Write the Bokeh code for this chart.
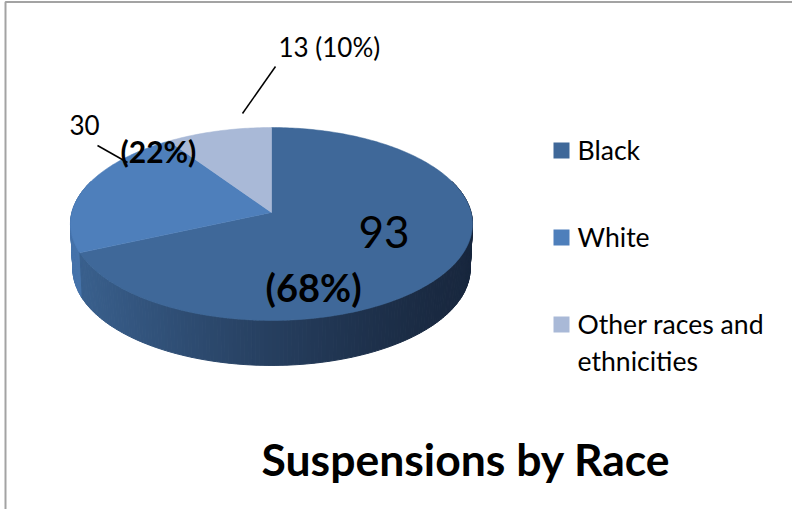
import math
from bokeh.core.properties import value
from bokeh.embed import file_html
from bokeh.models import Range1d
from bokeh.plotting import figure
from bokeh.resources import INLINE

# Chart content
categories = ["Black", "White", "Other races and ethnicities"]
counts = [93, 30, 13]
slice_colors = ["#3f6899", "#4e7fbb", "#a9b9d7"]
title = "Suspensions by Race"
FONT = value("Lato")

# Tilted-disc geometry, in page pixels
CX, CY, RX, RY, TILT, DEPTH = 271, 212, 199.6, 95.1, 0.119, 45


def rim(theta):
    """Project a clockwise-from-top angle on the disc onto the page."""
    u, v = math.sin(theta), math.cos(theta)
    s = 1 / (1 + TILT * v)
    return CX + RX * u * s, CY - RY * v * s


def mix(a, b, t):
    pa = [int(a[i:i + 2], 16) for i in (1, 3, 5)]
    pb = [int(b[i:i + 2], 16) for i in (1, 3, 5)]
    return "#" + "".join(f"{round(x + (y - x) * t):02x}" for x, y in zip(pa, pb))


p = figure(width=792, height=509, output_backend="svg", toolbar_location=None,
           x_range=Range1d(0, 792), y_range=Range1d(509, 0),
           min_border=0, outline_line_color=None, background_fill_color="white",
           border_fill_color="white")
p.axis.visible = False
p.grid.visible = False

# Chart-area frame along the top and left edges
p.line([5, 5, 792], [509, 1.5, 1.5], line_color="#a3a3a3", line_width=2)

# Slice boundaries derived from the counts
total = sum(counts)
edges = [0.0]
for c in counts:
    edges.append(edges[-1] + 2 * math.pi * c / total)

# Shaded outer wall, drawn as thin strips across the front of the disc
n = 220
start, stop = math.radians(70), math.radians(290)
for i in range(n):
    a0 = start + (stop - start) * i / n
    a1 = start + (stop - start) * (i + 1) / n
    x0, y0 = rim(a0)
    x1, y1 = rim(a1)
    t = min(1, max(0, (CX + 200 - (x0 + x1) / 2) / 400))
    if a0 < edges[1]:
        color = mix("#18273e", "#3a618f", t ** 1.3)
    else:
        color = "#4673aa"
    shrink = 0.988
    bx0, bx1 = CX + (x0 - CX) * shrink, CX + (x1 - CX) * shrink
    p.patch([x0, x1, bx1, bx0], [y0, y1, y1 + DEPTH, y0 + DEPTH],
            fill_color=color, line_color=color, line_width=1)

# Top faces of the slices
for k, color in enumerate(slice_colors):
    steps = max(8, int((edges[k + 1] - edges[k]) * 60))
    pts = [rim(edges[k] + (edges[k + 1] - edges[k]) * j / steps) for j in range(steps + 1)]
    p.patch([CX] + [q[0] for q in pts], [CY] + [q[1] for q in pts],
            fill_color=color, line_color=color, line_width=0.5)

# Leader lines
p.line([242, 275], [113, 66], line_color="black", line_width=1.5)
p.line([97, 127], [145, 162], line_color="black", line_width=1.5)


def label(x, y, text, size, bold=False, align="left"):
    p.text([x], [y], text=[text], text_font=FONT, text_font_size=f"{size}px",
           text_font_style="bold" if bold else "normal", text_color="black",
           text_align=align, text_baseline="middle")


# Slice labels
label(358, 231, str(counts[0]), 44)
label(265, 286, f"({counts[0] / total:.0%})", 38, True)
label(69, 124, str(counts[1]), 26)
label(120, 150, f"({counts[1] / total:.0%})", 30, True)
label(278, 46, f"{counts[2]} ({counts[2] / total:.0%})", 26)

# Legend
legend_rows = [(150, ["Black"]), (237, ["White"]), (324, ["Other races and", "ethnicities"])]
for color, (ly, lines) in zip(slice_colors, legend_rows):
    p.scatter([561], [ly], marker="square", size=16, fill_color=color, line_color=None)
    for j, line in enumerate(lines):
        label(577, ly - 1 + j * 37, line, 26.6)

# Title
label(261, 458, title, 44.5, True)

open("out.html", "w").write(file_html(p, INLINE))
